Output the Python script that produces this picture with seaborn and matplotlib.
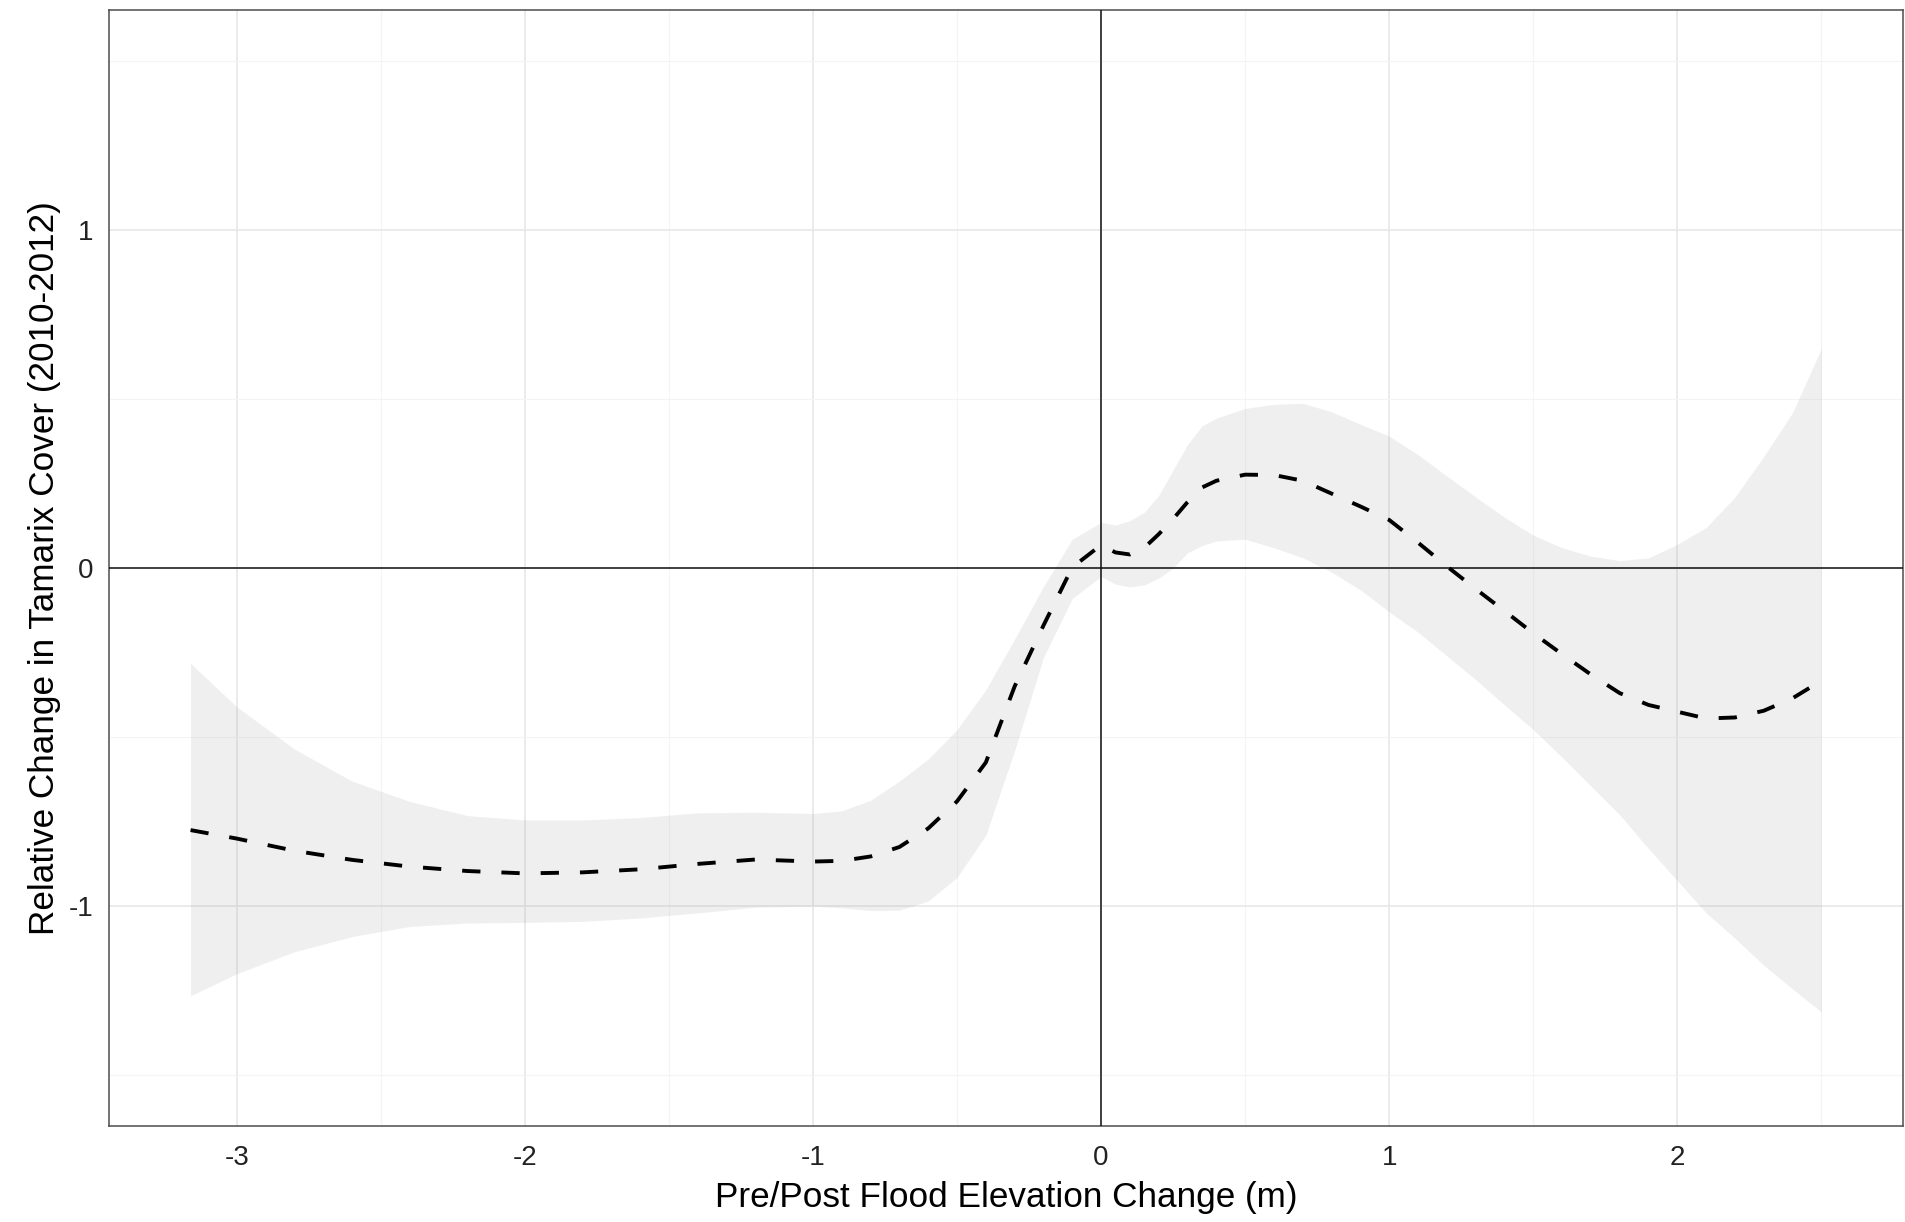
import numpy as np
import pandas as pd
import matplotlib
matplotlib.use("Agg")
import matplotlib.pyplot as plt
import seaborn as sns
from matplotlib.ticker import FixedLocator

# ---- data ----
elev_change = [-3.16, -3.0, -2.8, -2.6, -2.4, -2.2, -2.0, -1.8, -1.6, -1.4, -1.2, -1.0,
               -0.9, -0.8, -0.7, -0.6, -0.5, -0.4, -0.3, -0.2, -0.1, 0.0, 0.05, 0.1,
               0.15, 0.2, 0.25, 0.3, 0.35, 0.4, 0.5, 0.6, 0.7, 0.8, 0.9, 1.0, 1.1, 1.2,
               1.3, 1.4, 1.5, 1.6, 1.7, 1.8, 1.9, 2.0, 2.1, 2.2, 2.3, 2.4, 2.5]
fit = [-0.775, -0.800, -0.836, -0.863, -0.883, -0.896, -0.903, -0.900, -0.891, -0.875,
       -0.862, -0.868, -0.866, -0.853, -0.825, -0.770, -0.690, -0.575, -0.350, -0.170,
       0.002, 0.068, 0.046, 0.040, 0.060, 0.100, 0.145, 0.195, 0.238, 0.258, 0.276,
       0.275, 0.258, 0.220, 0.182, 0.142, 0.075, 0.005, -0.062, -0.127, -0.193, -0.255,
       -0.315, -0.370, -0.405, -0.425, -0.445, -0.442, -0.422, -0.385, -0.333]
upper = [-0.282, -0.410, -0.535, -0.630, -0.690, -0.732, -0.745, -0.745, -0.738, -0.724,
         -0.722, -0.726, -0.718, -0.687, -0.630, -0.565, -0.478, -0.360, -0.210, -0.055,
         0.085, 0.135, 0.127, 0.140, 0.165, 0.215, 0.290, 0.365, 0.420, 0.443, 0.472,
         0.484, 0.487, 0.462, 0.425, 0.390, 0.335, 0.272, 0.210, 0.150, 0.097, 0.060,
         0.035, 0.022, 0.030, 0.070, 0.120, 0.210, 0.330, 0.460, 0.650]
lower = [-1.265, -1.200, -1.135, -1.090, -1.060, -1.050, -1.048, -1.045, -1.035, -1.020,
         -1.003, -1.000, -1.005, -1.013, -1.012, -0.985, -0.915, -0.790, -0.540, -0.265,
         -0.090, -0.025, -0.048, -0.056, -0.050, -0.030, 0.000, 0.045, 0.066, 0.080,
         0.085, 0.060, 0.030, -0.012, -0.065, -0.130, -0.190, -0.260, -0.330, -0.405,
         -0.478, -0.560, -0.645, -0.730, -0.830, -0.925, -1.020, -1.095, -1.175, -1.245,
         -1.313]
x_ticks = [-3, -2, -1, 0, 1, 2]
y_ticks = [-1, 0, 1]
x_title = "Pre/Post Flood Elevation Change (m)"
y_title = "Relative Change in Tamarix Cover (2010-2012)"

df = pd.DataFrame({"x": elev_change, "y": fit, "lo": lower, "hi": upper})

sns.set_theme(style="white")
plt.rcParams['font.family'] = ['Liberation Sans', 'DejaVu Sans']

W, H = 1905, 1222
fig = plt.figure(figsize=(W / 100, H / 100), dpi=100)
ax = fig.add_axes([109 / W, 1 - 1126 / H, (1903 - 109) / W, (1126 - 10) / H])

# ggplot-like expansion
xmin, xmax = min(elev_change), max(elev_change)
xr = xmax - xmin
ax.set_xlim(xmin - 0.05 * xr, xmax + 0.05 * xr)
ax.set_ylim(-1.65, 1.65)

# grid
ax.xaxis.set_major_locator(FixedLocator(x_ticks))
ax.yaxis.set_major_locator(FixedLocator(y_ticks))
ax.xaxis.set_minor_locator(FixedLocator([-3.5, -2.5, -1.5, -0.5, 0.5, 1.5, 2.5]))
ax.yaxis.set_minor_locator(FixedLocator([-1.5, -0.5, 0.5, 1.5]))
ax.grid(which="major", color="#E6E6E6", linewidth=1.1)
ax.grid(which="minor", color="#F4F4F4", linewidth=0.8)
ax.set_axisbelow(True)

ax.fill_between(df["x"], df["lo"], df["hi"], color="#999999", alpha=0.15,
                linewidth=0, zorder=2)
ax.axhline(0, color="#111111", linewidth=1.1, zorder=3)
ax.axvline(0, color="#111111", linewidth=1.1, zorder=3)
sns.lineplot(data=df, x="x", y="y", ax=ax, color="black", linewidth=2.8,
             zorder=4, estimator=None, sort=True)
ax.lines[-1].set_dashes((4.7, 5.4))

for sp in ax.spines.values():
    sp.set_visible(True)
    sp.set_color("#4D4D4D")
    sp.set_linewidth(1.1)

ax.tick_params(axis="both", which="major", length=6, width=1.1, color="#333333",
               labelsize=20, labelcolor="#222222", direction="out")
ax.tick_params(axis="x", pad=8)
ax.tick_params(axis="y", pad=5)
ax.tick_params(which="minor", length=0)
ax.set_xticklabels([str(t) for t in x_ticks])
ax.set_yticklabels([str(t) for t in y_ticks])

ax.set_xlabel(x_title, fontsize=25.3, color="black", labelpad=7)
ax.set_ylabel(y_title, fontsize=25.3, color="black", labelpad=6)

fig.savefig("out.png", dpi=100)
